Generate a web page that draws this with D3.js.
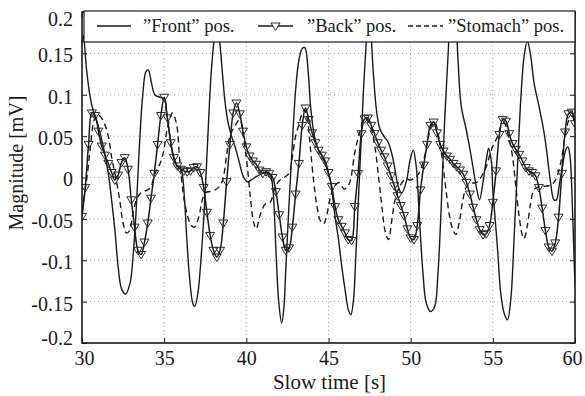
<!DOCTYPE html>
<html><head><meta charset="utf-8">
<script src="https://cdn.jsdelivr.net/npm/d3@7"></script>
<style>body{margin:0;background:#fff}svg{display:block}</style>
</head><body>
<script>
// ---- data ----
const xTicks = [30, 35, 40, 45, 50, 55, 60];
const yTicks = [-0.2, -0.15, -0.1, -0.05, 0, 0.05, 0.1, 0.15, 0.2];
const yTickLabels = ["-0.2", "-0.15", "-0.1", "-0.05", "0", "0.05", "0.1", "0.15", "0.2"];
const seriesNames = ['”Front” pos.', '”Back” pos.', '”Stomach” pos.'];

const frontTime = [30.0,30.08,30.28,30.49,30.69,30.99,31.3,31.6,31.8,32.0,32.2,32.4,32.65,32.92,33.12,33.32,33.48,33.69,33.89,34.03,34.23,34.43,34.74,35.04,35.12,35.32,35.53,35.73,35.93,36.09,36.24,36.38,36.54,36.74,36.86,37.05,37.25,37.45,37.65,37.86,38.06,38.22,38.4,38.55,38.7,38.9,39.1,39.3,39.55,39.8,40.05,40.3,40.6,40.9,41.2,41.45,41.6,41.7,41.82,41.98,42.15,42.29,42.39,42.59,42.79,43.0,43.2,43.4,43.56,43.77,43.91,44.11,44.31,44.51,44.72,44.92,45.12,45.4,45.61,45.81,46.01,46.21,46.36,46.52,46.66,46.82,46.96,47.13,47.27,47.45,47.6,47.73,47.94,48.14,48.44,48.64,48.85,49.05,49.25,49.45,49.76,49.96,50.16,50.34,50.44,50.55,50.75,50.95,51.21,51.46,51.66,51.86,52.06,52.27,52.5,52.75,52.87,53.08,53.38,53.58,53.79,53.99,54.19,54.39,54.6,54.74,54.9,55.0,55.1,55.3,55.48,55.69,55.89,56.09,56.29,56.5,56.7,56.9,57.1,57.31,57.51,57.81,58.12,58.32,58.52,58.72,58.87,59.03,59.23,59.43,59.57,59.7,59.84,59.94,60.0];
const frontValue = [0.162,0.172,0.13,0.098,0.08,0.062,0.037,0.005,-0.027,-0.063,-0.108,-0.134,-0.141,-0.128,-0.092,-0.031,0.033,0.098,0.128,0.13,0.114,0.1,0.097,0.095,0.082,0.054,0.027,0.015,0.013,0.005,-0.027,-0.075,-0.12,-0.152,-0.156,-0.14,-0.096,-0.035,0.046,0.126,0.17,0.19,0.16,0.125,0.092,0.065,0.05,0.038,0.02,0.002,-0.005,-0.003,0.001,0.004,0.006,0.003,-0.01,-0.04,-0.096,-0.152,-0.176,-0.156,-0.116,-0.035,0.037,0.106,0.142,0.156,0.157,0.126,0.086,0.054,0.037,0.029,0.021,0.009,-0.005,-0.047,-0.075,-0.108,-0.136,-0.16,-0.166,-0.148,-0.096,-0.027,0.033,0.106,0.154,0.21,0.17,0.126,0.078,0.058,0.048,0.042,0.029,0.009,-0.011,-0.019,-0.003,0.021,0.033,0.013,-0.015,-0.055,-0.116,-0.152,-0.162,-0.156,-0.116,-0.035,0.066,0.146,0.21,0.19,0.146,0.086,0.058,0.037,0.013,-0.011,-0.027,-0.007,0.021,0.035,0.021,-0.015,-0.04,-0.09,-0.14,-0.164,-0.172,-0.148,-0.075,0.013,0.094,0.146,0.165,0.146,0.114,0.086,0.054,0.025,-0.007,-0.027,-0.027,-0.011,0.013,0.033,0.037,0.025,-0.035,-0.096,-0.13];

const backStart = 30, backStep = 0.2;
const backValue = [-0.047,-0.012,0.040,0.078,0.075,0.056,0.038,0.027,0.017,0.006,
 -0.003,0.003,0.018,0.024,0.010,-0.027,-0.060,-0.088,-0.093,-0.078,
 -0.055,-0.025,0.005,0.040,0.075,0.097,0.072,0.042,0.024,0.014,
 0.010,0.008,0.007,0.008,0.012,0.013,0.006,-0.012,-0.042,-0.070,
 -0.088,-0.096,-0.088,-0.055,-0.005,0.040,0.078,0.090,0.077,0.056,
 0.037,0.026,0.020,0.016,0.009,0.005,0.007,0.005,0.000,-0.017,
 -0.045,-0.072,-0.088,-0.085,-0.060,-0.020,0.017,0.063,0.084,0.070,
 0.054,0.042,0.033,0.027,0.020,0.006,-0.011,-0.035,-0.051,-0.059,
 -0.067,-0.075,-0.076,-0.035,0.005,0.053,0.071,0.072,0.063,0.053,
 0.042,0.033,0.025,0.014,0.002,-0.010,-0.022,-0.034,-0.046,-0.062,
 -0.073,-0.075,-0.058,-0.015,0.015,0.040,0.063,0.067,0.054,0.040,
 0.032,0.026,0.022,0.017,0.013,0.009,0.004,-0.006,-0.020,-0.036,
 -0.051,-0.063,-0.069,-0.068,-0.058,-0.030,0.008,0.052,0.070,0.068,
 0.053,0.041,0.034,0.028,0.020,0.012,0.008,0.006,0.002,-0.012,
 -0.037,-0.064,-0.084,-0.089,-0.079,-0.048,0.005,0.055,0.077,0.079,
 0.065];

const stomachTime = [30.0,30.3,30.5,30.7,30.9,31.1,31.35,31.6,31.8,32.1,32.3,32.5,32.7,32.9,33.1,33.4,33.7,34.0,34.2,34.45,34.75,34.95,35.2,35.5,35.75,35.95,36.2,36.45,36.65,36.85,37.1,37.35,37.55,37.8,38.1,38.4,38.6,38.8,39.0,39.3,39.6,39.85,40.05,40.25,40.45,40.6,40.85,41.15,41.45,41.7,42.0,42.3,42.6,42.8,43.0,43.2,43.4,43.55,43.75,43.9,44.1,44.3,44.5,44.7,44.9,45.1,45.35,45.65,45.95,46.25,46.6,46.9,47.2,47.45,47.8,48.05,48.25,48.45,48.65,48.85,49.05,49.35,49.7,50.0,50.4,50.75,51.05,51.25,51.45,51.75,51.95,52.15,52.35,52.55,52.75,52.98,53.18,53.4,53.7,54.0,54.3,54.6,54.9,55.1,55.3,55.5,55.7,56.0,56.2,56.4,56.6,56.8,56.9,57.1,57.3,57.5,57.8,58.4,58.75,59.03,59.23,59.43,59.64,59.84,60.0];
const stomachValue = [-0.04,0.0,0.035,0.066,0.076,0.074,0.066,0.05,0.025,-0.005,-0.028,-0.055,-0.067,-0.064,-0.043,-0.023,-0.017,-0.015,-0.011,0.005,0.017,0.03,0.06,0.078,0.065,0.02,-0.025,-0.048,-0.058,-0.06,-0.048,-0.025,-0.018,-0.017,-0.015,-0.01,0.0,0.027,0.05,0.062,0.07,0.045,0.015,-0.025,-0.055,-0.062,-0.045,-0.032,-0.03,-0.015,-0.004,0.0,0.005,0.025,0.05,0.064,0.078,0.082,0.065,0.035,-0.005,-0.035,-0.052,-0.056,-0.045,-0.025,-0.011,-0.006,-0.014,-0.008,0.03,0.055,0.071,0.068,0.04,0.0,-0.035,-0.065,-0.075,-0.052,-0.027,-0.01,-0.002,-0.003,0.002,0.018,0.046,0.062,0.067,0.045,0.018,-0.015,-0.045,-0.062,-0.069,-0.051,-0.027,-0.011,-0.007,-0.006,0.001,0.013,0.033,0.042,0.05,0.062,0.066,0.046,0.025,-0.011,-0.047,-0.07,-0.074,-0.058,-0.031,-0.015,-0.011,-0.01,-0.005,0.009,0.029,0.054,0.07,0.074,0.06];

// ---- chart ----
const W = 585, H = 396;
const FONT = '"Liberation Serif", "DejaVu Serif", serif';
const ink = "#1a1a1a";
const svg = d3.select("body").append("svg").attr("width", W).attr("height", H)
  .attr("font-family", FONT);
svg.append("rect").attr("width", W).attr("height", H).attr("fill", "#fff");

const x = d3.scaleLinear().domain([30, 60]).range([82, 575]);
const y = d3.scaleLinear().domain([-0.2, 0.2]).range([343, 12]);
const [x0, x1] = x.range(), [y0, y1] = y.range();

svg.append("clipPath").attr("id", "clip").append("rect")
  .attr("x", x0).attr("y", y1).attr("width", x1 - x0).attr("height", y0 - y1);

// grid
const grid = svg.append("g").attr("stroke", "#8c8c8c").attr("stroke-width", 0.8)
  .attr("stroke-dasharray", "1,3");
grid.selectAll(".gx").data(xTicks.slice(1, -1)).join("line")
  .attr("x1", d => x(d)).attr("x2", d => x(d)).attr("y1", y0).attr("y2", y1);
grid.selectAll(".gy").data(yTicks.slice(1, -1)).join("line")
  .attr("y1", d => y(d)).attr("y2", d => y(d)).attr("x1", x0).attr("x2", x1);

// series
const plot = svg.append("g").attr("clip-path", "url(#clip)");
const frontData = frontTime.map((t, i) => [t, frontValue[i]]);
const backData = backValue.map((v, i) => [backStart + i * backStep, v]);
const stomachData = stomachTime.map((t, i) => [t, stomachValue[i]]);
const line = d3.line().x(d => x(d[0])).y(d => y(d[1])).curve(d3.curveCatmullRom.alpha(0.5));

plot.append("path").datum(stomachData).attr("d", line).attr("fill", "none")
  .attr("stroke", ink).attr("stroke-width", 1.4).attr("stroke-dasharray", "6,4");
plot.append("path").datum(frontData).attr("d", line).attr("fill", "none")
  .attr("stroke", ink).attr("stroke-width", 1.4);
plot.append("path").datum(backData).attr("d", line).attr("fill", "none")
  .attr("stroke", ink).attr("stroke-width", 1.5);

const tri = "M-4.5,-3L4.5,-3L0,4.5Z";
plot.append("g").selectAll("path").data(backData).join("path")
  .attr("transform", d => `translate(${x(d[0])},${y(d[1])})`)
  .attr("d", tri).attr("fill", "none").attr("stroke", "#2a2a2a").attr("stroke-width", 1);

// axes (inward ticks on all sides)
function styleAxis(g) {
  g.attr("font-family", FONT).attr("font-size", 20);
  g.select(".domain").remove();
  g.selectAll(".tick line").attr("stroke", ink).attr("stroke-width", 1);
  g.selectAll("text").attr("fill", ink);
}
svg.append("g").attr("transform", `translate(0,${y0})`)
  .call(d3.axisBottom(x).tickValues(xTicks).tickFormat(d3.format("d")).tickSize(-5).tickPadding(8))
  .call(styleAxis)
  .call(g => g.selectAll("text").attr("dx", d => d === 60 ? "-0.15em" : d === 30 ? "0.1em" : 0));
svg.append("g").attr("transform", `translate(0,${y1})`)
  .call(d3.axisTop(x).tickValues(xTicks).tickFormat("").tickSize(-5)).call(styleAxis);
svg.append("g").attr("transform", `translate(${x0},0)`)
  .call(d3.axisLeft(y).tickValues(yTicks).tickFormat((d, i) => yTickLabels[i]).tickSize(-5).tickPadding(9))
  .call(styleAxis)
  .call(g => g.selectAll("text").attr("dy", (d) => d === 0.2 ? "0.65em" : d === -0.2 ? "0.05em" : "0.42em"));
svg.append("g").attr("transform", `translate(${x1},0)`)
  .call(d3.axisRight(y).tickValues(yTicks).tickFormat("").tickSize(-5)).call(styleAxis);

// frame
svg.append("rect").attr("x", x0).attr("y", y1).attr("width", x1 - x0).attr("height", y0 - y1)
  .attr("fill", "none").attr("stroke", ink).attr("stroke-width", 1.6);

// axis titles
svg.append("text").attr("x", (x0 + x1) / 2 + 1).attr("y", 389).attr("text-anchor", "middle")
  .attr("fill", ink).attr("font-size", 21).text("Slow time [s]");
svg.append("text").attr("transform", "translate(23,163) rotate(-90)").attr("text-anchor", "middle")
  .attr("fill", ink).attr("font-size", 20).text("Magnitude [mV]");

// legend
const lg = svg.append("g");
lg.append("rect").attr("x", 84).attr("y", 11).attr("width", 491).attr("height", 31)
  .attr("fill", "#fff").attr("stroke", ink).attr("stroke-width", 1.2);
const ly = 26;
const items = [
  {x1: 97, x2: 131, tx: 143, dash: null, marker: false},
  {x1: 258, x2: 293, tx: 307, dash: null, marker: true},
  {x1: 408, x2: 443, tx: 448, dash: "5,3", marker: false}
];
items.forEach((it, i) => {
  lg.append("line").attr("x1", it.x1).attr("x2", it.x2).attr("y1", ly).attr("y2", ly)
    .attr("stroke", ink).attr("stroke-width", 1.5).attr("stroke-dasharray", it.dash);
  if (it.marker) lg.append("path").attr("transform", `translate(${(it.x1 + it.x2) / 2},${ly})`)
    .attr("d", tri).attr("fill", "#fff").attr("stroke", "#2a2a2a").attr("stroke-width", 1);
  lg.append("text").attr("x", it.tx).attr("y", ly + 6).attr("fill", ink)
    .attr("font-size", 18.5).text(seriesNames[i]);
});
</script>
</body></html>
